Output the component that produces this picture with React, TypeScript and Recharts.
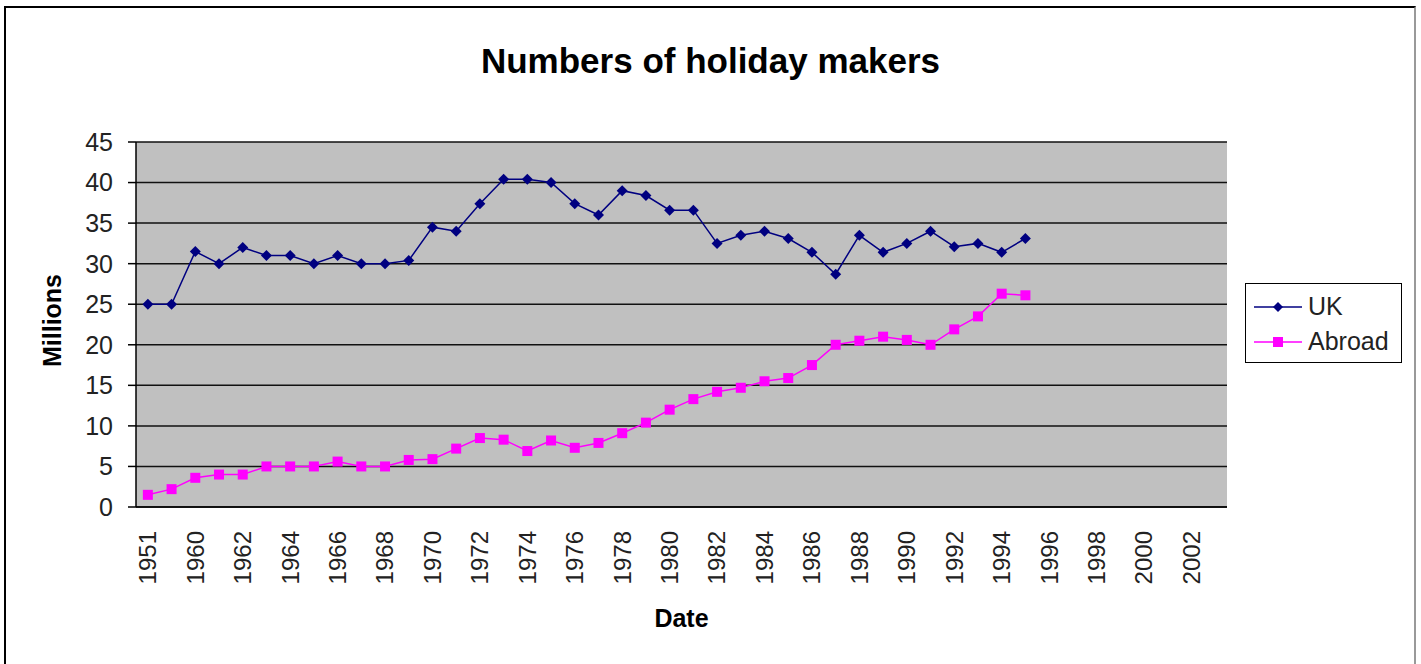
import React from "react";
import { LineChart, Line, XAxis, YAxis, CartesianGrid, Legend } from "recharts";

// categories on the x axis (one band each)
const years = [
  "1951", "1955", "1960", "1961", "1962", "1963", "1964", "1965", "1966", "1967",
  "1968", "1969", "1970", "1971", "1972", "1973", "1974", "1975", "1976", "1977",
  "1978", "1979", "1980", "1981", "1982", "1983", "1984", "1985", "1986", "1987",
  "1988", "1989", "1990", "1991", "1992", "1993", "1994", "1995", "1996", "1997",
  "1998", "1999", "2000", "2001", "2002", "2003",
];

// millions of holiday makers, 1951 .. 1995
const ukValues = [
  25, 25, 31.5, 30, 32, 31, 31, 30, 31, 30, 30, 30.4, 34.5, 34, 37.4, 40.4, 40.4, 40, 37.4,
  36, 39, 38.4, 36.6, 36.6, 32.5, 33.5, 34, 33.1, 31.4, 28.7, 33.5, 31.4, 32.5, 34, 32.1,
  32.5, 31.4, 33.1,
];
const abroadValues = [
  1.5, 2.2, 3.6, 4, 4, 5, 5, 5, 5.6, 5, 5, 5.8, 5.9, 7.2, 8.5, 8.3, 6.9, 8.2, 7.3, 7.9,
  9.1, 10.4, 12, 13.3, 14.2, 14.7, 15.5, 15.9, 17.5, 20, 20.5, 21, 20.6, 20, 21.9, 23.5,
  26.3, 26.1,
];

const yTicks = [0, 5, 10, 15, 20, 25, 30, 35, 40, 45];
const seriesOrder = ["uk", "abroad"];

const data = years.map((year, i) => ({
  year,
  uk: ukValues[i] ?? null,
  abroad: abroadValues[i] ?? null,
}));

// tick marks sit on the band edges, like Excel does
const edgeTicks = [...years.map((_, i) => i), years.length];

const FONT = '"Liberation Sans", Arial, sans-serif';
const UK_COLOR = "#000080";
const ABROAD_COLOR = "#FF00FF";

const Diamond = ({ cx, cy, r = 5.5 }: any) => {
  if (cx == null || cy == null) return null;
  return (
    <path
      d={`M${cx},${cy - r}L${cx + r},${cy}L${cx},${cy + r}L${cx - r},${cy}Z`}
      fill={UK_COLOR}
    />
  );
};

const Square = ({ cx, cy, r = 5 }: any) => {
  if (cx == null || cy == null) return null;
  return <rect x={cx - r} y={cy - r} width={r * 2} height={r * 2} fill={ABROAD_COLOR} />;
};

const YearTick = ({ x, y, payload }: any) => (
  <text
    x={x}
    y={y}
    transform={`rotate(-90 ${x} ${y})`}
    textAnchor="end"
    dy="0.35em"
    fontSize={24}
    fontFamily={FONT}
    fill="#222"
  >
    {payload.value}
  </text>
);

const LegendBox = ({ payload }: any) => (
  <div
    style={{
      border: "1px solid #000",
      background: "#fff",
      boxSizing: "border-box",
      width: 157,
      height: 80,
      padding: "5px 0 0 8px",
      fontFamily: FONT,
      fontSize: 25,
      color: "#222",
    }}
  >
    {(payload || []).map((entry: any) => {
      const isUk = entry.dataKey === "uk";
      const color = isUk ? UK_COLOR : ABROAD_COLOR;
      return (
        <div key={entry.value} style={{ display: "flex", alignItems: "center", height: 35 }}>
          <svg width={48} height={14} style={{ marginRight: 6 }}>
            <line x1={0} y1={7} x2={48} y2={7} stroke={color} strokeWidth={1.5} />
            {isUk ? <Diamond cx={24} cy={7} r={5} /> : <Square cx={24} cy={7} r={5} />}
          </svg>
          <span>{entry.value}</span>
        </div>
      );
    })}
  </div>
);

export default function App() {
  return (
    <div
      style={{
        position: "absolute",
        left: 0,
        top: 0,
        width: 1421,
        height: 664,
        overflow: "hidden",
        background: "#fff",
        fontFamily: FONT,
      }}
    >
      <div
        style={{
          position: "absolute",
          left: 4,
          top: 6,
          width: 1408,
          height: 700,
          borderLeft: "2px solid #000",
          borderTop: "2px solid #000",
          borderRight: "2px solid #999",
        }}
      />
      <div
        style={{
          position: "absolute",
          left: 0,
          top: 44,
          width: 1421,
          textAlign: "center",
          fontSize: 35,
          lineHeight: "34px",
          fontWeight: "bold",
          color: "#000",
        }}
      >
        Numbers of holiday makers
      </div>
      <div style={{ position: "absolute", left: 0, top: 0 }}>
        <LineChart
          width={1421}
          height={664}
          data={data}
          margin={{ top: 142, right: 194, left: 0, bottom: 37 }}
        >
          <CartesianGrid
            xAxisId="years"
            vertical={false}
            stroke="#111"
            strokeWidth={1.5}
            fill="#C0C0C0"
            fillOpacity={1}
          />
          <XAxis
            xAxisId="aEdge"
            type="number"
            domain={[0, years.length]}
            ticks={edgeTicks}
            interval={0}
            tick={false}
            tickSize={8}
            height={8}
            stroke="#000"
            strokeWidth={1.5}
            allowDataOverflow
          />
          <XAxis
            xAxisId="years"
            dataKey="year"
            type="category"
            scale="band"
            interval={1}
            axisLine={false}
            tickLine={false}
            tickSize={0}
            tickMargin={16}
            height={112}
            tick={<YearTick />}
            label={({ viewBox }: any) => (
              <text
                x={viewBox.x + viewBox.width / 2}
                y={viewBox.y + viewBox.height}
                textAnchor="middle"
                fontSize={25}
                fontWeight="bold"
                fontFamily={FONT}
                fill="#000"
              >
                Date
              </text>
            )}
          />
          <XAxis
            xAxisId="top"
            orientation="top"
            type="number"
            domain={[0, 1]}
            height={0}
            tick={false}
            tickLine={false}
            stroke="#999"
            strokeWidth={2}
          />
          <YAxis
            domain={[0, 45]}
            ticks={yTicks}
            interval={0}
            width={136}
            tickSize={8}
            tickMargin={15}
            stroke="#000"
            strokeWidth={1.5}
            tick={{ fill: "#222", fontSize: 25, fontFamily: FONT }}
            label={({ viewBox }: any) => {
              const cx = viewBox.x + 52;
              const cy = viewBox.y + viewBox.height / 2 - 4;
              return (
                <text
                  x={cx}
                  y={cy}
                  transform={`rotate(-90 ${cx} ${cy})`}
                  textAnchor="middle"
                  dy="0.35em"
                  fontSize={25}
                  fontWeight="bold"
                  fontFamily={FONT}
                  fill="#000"
                >
                  Millions
                </text>
              );
            }}
          />
          <YAxis
            yAxisId="right"
            orientation="right"
            domain={[0, 45]}
            width={0}
            tick={false}
            tickLine={false}
            stroke="#999"
            strokeWidth={2}
          />
          <Legend
            layout="vertical"
            align="center"
            verticalAlign="middle"
            itemSorter={(item: any) => seriesOrder.indexOf(item.dataKey)}
            wrapperStyle={{ left: 1245, top: 283, width: 157, height: 80 }}
            content={<LegendBox />}
          />
          <Line
            xAxisId="years"
            name="UK"
            dataKey="uk"
            stroke={UK_COLOR}
            strokeWidth={1.5}
            dot={(p: any) => <Diamond key={`uk-${p.index}`} cx={p.cx} cy={p.cy} />}
            activeDot={false}
            isAnimationActive={false}
          />
          <Line
            xAxisId="years"
            name="Abroad"
            dataKey="abroad"
            stroke={ABROAD_COLOR}
            strokeWidth={1.5}
            dot={(p: any) => <Square key={`ab-${p.index}`} cx={p.cx} cy={p.cy} />}
            activeDot={false}
            isAnimationActive={false}
          />
        </LineChart>
      </div>
    </div>
  );
}
